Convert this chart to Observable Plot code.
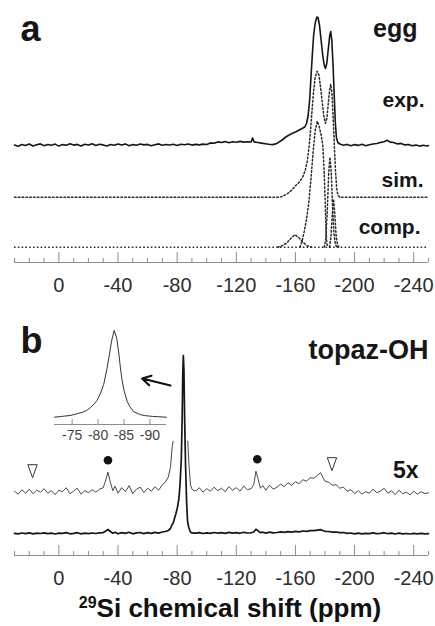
<!DOCTYPE html>
<html>
<head>
<meta charset="utf-8">
<script src="https://cdn.jsdelivr.net/npm/d3@7"></script>
<script src="https://cdn.jsdelivr.net/npm/@observablehq/plot@0.6"></script>
<style>
  body { margin: 0; background: #fff; }
  #wrap { position: relative; width: 435px; height: 626px; overflow: hidden;
          font-family: "Liberation Sans", Arial, Helvetica, sans-serif; }
  #inset { position: absolute; left: 0; top: 320px; }
  #xtitle { position: absolute; left: 30px; width: 400px; top: 595px; text-align: center;
            font-weight: bold; font-size: 26px; line-height: 26px; color: #111; white-space: nowrap; }
  #xtitle span { font-size: 16px; position: relative; top: -9px; }
</style>
</head>
<body>
<div id="wrap">
  <div id="pa"></div>
  <div id="pb"></div>
  <div id="inset"></div>
  <div id="xtitle"><span>29</span>Si chemical shift (ppm)</div>
</div>
<script>
// ---------------- DATA ----------------
// shared chemical-shift axis (ppm)
const xDomain = [30, -250];
const axisTicks = [0, -40, -80, -120, -160, -200, -240];
const minorTicks = [30, 20, 10, -10, -20, -30, -50, -60, -70, -90, -100, -110, -130, -140, -150, -170, -180, -190, -210, -220, -230, -250];

// panel a: egg — experimental spectrum [ppm, intensity]
const eggExp = [
  [30,0.5],[27.5,-0.8],[25,1.0],[22.5,0.0],[20,1.5],[17.5,-0.5],[15,0.8],[12.5,1.6],[10,-0.3],[7.5,1.0],
  [5,0.2],[2.5,1.4],[0,-0.6],[-2.5,0.9],[-5,0.3],[-7.5,1.8],[-10,0.4],[-12.5,1.1],[-15,-0.4],[-17.5,1.3],
  [-20,0.5],[-22.5,1.7],[-25,0.1],[-27.5,1.2],[-30,0.6],[-32.5,-0.5],[-35,1.0],[-37.5,0.2],[-40,1.4],[-42.5,0.4],
  [-45,1.6],[-47.5,-0.2],[-50,0.9],[-52.5,0.3],[-55,1.5],[-57.5,0.6],[-60,1.1],[-62.5,-0.3],[-65,0.8],[-67.5,1.6],
  [-70,0.2],[-72.5,1.0],[-75,0.5],[-77.5,1.3],[-80,0.0],[-82.5,1.2],[-85,0.7],[-87.5,1.5],[-90,0.4],[-92.5,1.1],
  [-95,0.6],[-97.5,1.4],[-100,1.0],[-102.5,2.6],[-105,2.2],[-107.5,3.6],[-110,3.0],[-112.5,3.9],[-115,2.8],[-117.5,3.7],
  [-120,3.2],[-122.5,4.1],[-125,3.4],[-127.5,3.8],[-130,3.5],[-131,7.5],[-132,3.6],[-134.5,3.0],[-137,2.4],[-139.5,1.8],
  [-142,1.2],[-144.5,0.9],[-147,1.7],[-150.5,5],[-154,9],[-157.3,11.7],[-160,13.5],[-162,15],[-164.5,17],[-166.3,18.5],
  [-167.5,22],[-168.6,30],[-169.6,45],[-170.5,68],[-171.4,90],[-172.3,110],[-173.3,122],[-174.5,128.5],[-175.3,128],[-176.3,120],
  [-177.3,106],[-178.5,90],[-179.5,80],[-180.3,77],[-181.2,82],[-182.2,96],[-183.2,110],[-183.9,114],[-184.6,105],[-185.4,82],
  [-186.2,52],[-186.9,25],[-187.7,8],[-188.7,3],[-190,1.5],[-192.5,0.3],[-195,1.1],[-197.5,-0.2],[-200,0.9],[-202.5,0.1],
  [-205,1.2],[-207.5,-0.3],[-210,0.8],[-212.5,1.5],[-215,2.0],[-217.5,3.1],[-220,3.8],[-222,5.2],[-224,3.4],[-226.5,3.0],
  [-229,1.6],[-231.5,2.1],[-234,0.6],[-236.5,1.0],[-239,-0.2],[-241.5,0.4],[-244,-0.6],[-246.5,0.2],[-249,-0.5],[-250,0.0]
];
// panel a: simulated spectrum
const eggSim = [
  [30,0],[-149,0],[-151,0.8],[-153.5,2.5],[-156,5],[-158,8],[-160,11.5],[-162,14],[-164,18],[-165.5,22],
  [-166.8,28],[-168,36],[-169.2,50],[-170.3,68],[-171.3,88],[-172.3,106],[-173.4,120],[-174.7,126],[-175.9,122],[-177,110],
  [-178.2,94],[-179.3,80],[-180.3,74],[-181.3,79],[-182.3,95],[-183.2,108],[-183.9,113],[-184.7,104],[-185.5,80],[-186.3,52],
  [-187.1,26],[-187.9,9],[-188.7,2],[-190,0],[-250,0]
];
// panel a: simulation components
const compA = [[-148,0],[-151,1.5],[-154,4],[-157,9],[-159.5,12.5],[-162,10],[-165,5],[-168,1.5],[-171,0]];
const compB = [[-163,0],[-164.5,6],[-166,16],[-167.5,28],[-169,44],[-170.5,68],[-172,96],[-173.5,118],[-174.8,126],[-176,121],
               [-177.3,113],[-178.5,102],[-179.3,80],[-180,52],[-180.6,20],[-181.2,4],[-181.8,0]];
const compC = [[-179.5,0],[-180.5,8],[-181.5,35],[-182.5,74],[-183.3,90],[-184.2,76],[-185,44],[-186,15],[-187,3],[-188,0]];
const compD = [[-183,0],[-184,10],[-185,34],[-185.8,48],[-186.6,34],[-187.5,12],[-188.5,2],[-189.5,0]];

// panel b: topaz-OH spectrum [ppm, intensity]
const topaz = [
  [30,0.2],[27.5,-0.4],[25,0.5],[22.5,-0.2],[20,0.6],[17.5,-0.3],[15,0.4],[12.5,0.0],[10,0.7],[7.5,-0.2],
  [5,0.3],[2.5,-0.5],[0,0.4],[-2.5,0.1],[-5,0.9],[-7.5,-0.3],[-10,0.2],[-12.5,0.8],[-15,-0.4],[-17.5,0.3],
  [-20,-0.1],[-22.5,0.5],[-25,0.0],[-27.5,0.6],[-30,0.9],[-31.5,2.2],[-33.2,4.0],[-34.8,2.0],[-36.5,0.3],[-38,1.2],
  [-40,-0.2],[-42.5,0.9],[-45,0.1],[-47.5,1.3],[-50,-0.3],[-52.5,0.6],[-55,1.0],[-57.5,-0.1],[-60,0.8],[-62.5,0.2],
  [-65,1.1],[-67.5,0.4],[-70,1.5],[-72,2.0],[-74,3.0],[-75.5,5.0],[-76.6,9.0],[-77.3,10.2],[-78.2,15],[-79.2,20],
  [-80.2,26],[-81.2,35],[-82,50],[-82.8,74],[-83.4,115],[-83.8,160],[-84.2,178],[-84.6,163],[-85.1,112],[-85.7,68],
  [-86.4,32],[-86.9,16],[-87.2,10.2],[-88,5.5],[-89,1.5],[-90,0.6],[-91.5,0.3],[-93,0.3],[-95,0.9],[-97.5,0.0],
  [-100,0.7],[-102.5,0.2],[-105,1.0],[-107.5,0.3],[-110,0.8],[-112.5,0.1],[-115,1.1],[-117.5,0.4],[-120,0.9],[-122.5,0.2],
  [-125,1.2],[-127.5,0.5],[-130,0.7],[-131.8,1.5],[-133.3,4.2],[-134.8,2.6],[-136.3,0.8],[-138,1.3],[-140,0.4],[-142.5,1.4],
  [-145,0.6],[-147.5,1.0],[-150,1.6],[-152.5,1.1],[-155,1.9],[-157.5,1.4],[-160,2.1],[-162.5,1.7],[-165,2.5],[-167.5,2.2],
  [-170,2.9],[-172.5,2.8],[-175,3.4],[-177,3.9],[-178.5,3.0],[-180,2.2],[-182.5,2.0],[-185,1.4],[-187.5,1.5],[-190,0.8],
  [-192.5,1.0],[-195,0.2],[-197.5,0.5],[-200,-0.3],[-202.5,0.3],[-205,-0.4],[-207.5,0.1],[-210,-0.2],[-212.5,0.6],[-215,-0.1],
  [-217.5,0.2],[-220,0.8],[-222.5,-0.2],[-225,0.3],[-227.5,-0.5],[-230,0.4],[-232.5,-0.3],[-235,0.0],[-237.5,-0.5],[-240,0.2],
  [-242.5,-0.4],[-245,0.1],[-247.5,-0.3],[-250,-0.1]
];
const expansion = 5;                      // "5x" trace
const sidebandPpm = [-33.2, -134.2];      // ● spinning sidebands
const impurityPpm = [17.8, -184.7];       // ▽ markers

// inset: main resonance, expanded
const insetDomain = [-71.6, -93.2];
const insetTicks = [-75, -80, -85, -90];
const insetPeak = [
  [-71.6,0],[-73,0.8],[-74.6,1.7],[-75.9,3.4],[-77,5],[-77.8,6.7],[-78.5,9.5],[-79.2,13],[-79.8,16.7],[-80.4,23],
  [-81.1,33],[-81.7,48],[-82.2,63],[-82.6,76],[-83.1,86.7],[-83.6,79],[-84.0,64],[-84.3,50],[-84.6,38],[-85.0,27],
  [-85.6,16],[-86.2,10],[-86.9,5.5],[-88,2.8],[-89,1.6],[-90.5,0.8],[-93.2,0]
];

// ---------------- DRAWING ----------------
const font = '"Liberation Sans", Arial, Helvetica, sans-serif';
const axisGray = "#8d8d8d";
const ink = "#161616";
const dotted = {stroke: "#2a2a2a", strokeWidth: 1.5, strokeDasharray: "1.6,2.2"};
const style = {fontFamily: font, background: "transparent", overflow: "visible"};
const rows = (pairs, offset, k = 1) => pairs.map(([ppm, h]) => ({ppm, y: offset + k * h}));

function axisMarks(fontSize) {
  return [
    Plot.ruleY([0], {stroke: axisGray, strokeWidth: 1}),
    Plot.ruleX(minorTicks, {x: d => d, y1: 0, y2: 4, stroke: axisGray}),
    Plot.ruleX(axisTicks, {x: d => d, y1: 0, y2: 10, stroke: axisGray}),
    Plot.axisX({ticks: axisTicks, tickSize: 0, tickPadding: 15, tickFormat: d => String(d),
                fontSize, fill: "#2e2e2e", label: null})
  ];
}
const label = (t, anchor, dx, dy, size) => Plot.text([t], {
  text: d => d, frameAnchor: anchor, dx, dy, lineAnchor: "bottom",
  textAnchor: anchor.endsWith("left") ? "start" : "end",
  fontSize: size, fontWeight: "bold", fill: ink
});

// ---- panel a ----
const A = {exp: 117, sim: 65.3, comp: 15.3};
const comps = [["A", compA], ["B", compB], ["C", compC], ["D", compD]]
  .flatMap(([k, arr]) => rows(arr, A.comp).map(r => ({...r, comp: k})));

const plotA = Plot.plot({
  width: 435, height: 300, marginLeft: 14, marginRight: 7, marginTop: 0, marginBottom: 38,
  x: {domain: xDomain, label: null},
  y: {domain: [0, 262], axis: null},
  style,
  marks: [
    ...axisMarks(20),
    Plot.ruleY([A.comp], {y: d => d, ...dotted}),
    Plot.line(comps, {x: "ppm", y: "y", z: "comp", ...dotted}),
    Plot.line(rows(eggSim, A.sim), {x: "ppm", y: "y", ...dotted}),
    Plot.line(rows(eggExp, A.exp), {x: "ppm", y: "y", stroke: ink, strokeWidth: 1.6}),
    label("a", "top-left", 6, 40, 36),
    label("egg", "top-right", -11, 36, 25),
    label("exp.", "top-right", -4, 106, 21),
    label("sim.", "top-right", -5, 186, 21),
    label("comp.", "top-right", -8, 233, 21)
  ]
});
document.getElementById("pa").append(plotA);

// ---- panel b ----
const B = {low: 22, high: 63.3, clip: 51};
const highRows = topaz.map(([ppm, h]) => ({ppm, y: expansion * h <= B.clip ? B.high + expansion * h : NaN}));
const localMax = p => d3.max(topaz.filter(([q]) => Math.abs(q - p) <= 3), d => d[1]);
const sidebands = sidebandPpm.map(p => ({ppm: p, y: B.high + expansion * localMax(p) + 12}));
const impurities = impurityPpm.map(p => ({ppm: p, y: B.high + expansion * localMax(p) + 18}));
const downTriangle = {
  draw(ctx, size) {
    const r = Math.sqrt(size / Math.PI);
    ctx.moveTo(-0.93 * r, -1.3 * r);
    ctx.lineTo(0.93 * r, -1.3 * r);
    ctx.lineTo(0, 1.3 * r);
    ctx.closePath();
  }
};
const arrowSpec = [{x1: -75.5, y1: 170, x2: -56.3, y2: 177}];

const plotB = Plot.plot({
  width: 435, height: 290, marginLeft: 14, marginRight: 7, marginTop: 0, marginBottom: 35,
  x: {domain: xDomain, label: null},
  y: {domain: [0, 255], axis: null},
  style,
  marks: [
    ...axisMarks(20),
    Plot.line(highRows, {x: "ppm", y: "y", stroke: "#333", strokeWidth: 0.9}),
    Plot.line(rows(topaz, B.low), {x: "ppm", y: "y", stroke: ink, strokeWidth: 1.7}),
    Plot.dot(sidebands, {x: "ppm", y: "y", r: 4.3, fill: "#111", stroke: "none"}),
    Plot.dot(impurities, {x: "ppm", y: "y", r: 5, symbol: downTriangle, fill: "white", stroke: "#333", strokeWidth: 1}),
    Plot.arrow(arrowSpec, {x1: "x1", y1: "y1", x2: "x2", y2: "y2", stroke: "#111", strokeWidth: 2.2, headLength: 9}),
    label("b", "top-left", 6, 52, 36),
    label("topaz-OH", "top-right", 0, 58, 27),
    label("5x", "top-right", -10, 177, 23)
  ]
});
document.getElementById("pb").append(plotB);

// ---- inset ----
const plotI = Plot.plot({
  width: 180, height: 125, marginLeft: 54, marginRight: 14, marginTop: 0, marginBottom: 21,
  x: {domain: insetDomain, label: null},
  y: {domain: [0, 104], axis: null},
  style,
  marks: [
    Plot.ruleY([0], {stroke: axisGray, strokeWidth: 1}),
    Plot.ruleX(insetTicks, {x: d => d, y1: 0, y2: 5, stroke: axisGray}),
    Plot.axisX({ticks: insetTicks, tickSize: 0, tickPadding: 6, tickFormat: d => String(d),
                fontSize: 14, fill: "#444", label: null}),
    Plot.line(rows(insetPeak, 7.3), {x: "ppm", y: "y", stroke: "#333", strokeWidth: 1})
  ]
});
document.getElementById("inset").append(plotI);
</script>
</body>
</html>
